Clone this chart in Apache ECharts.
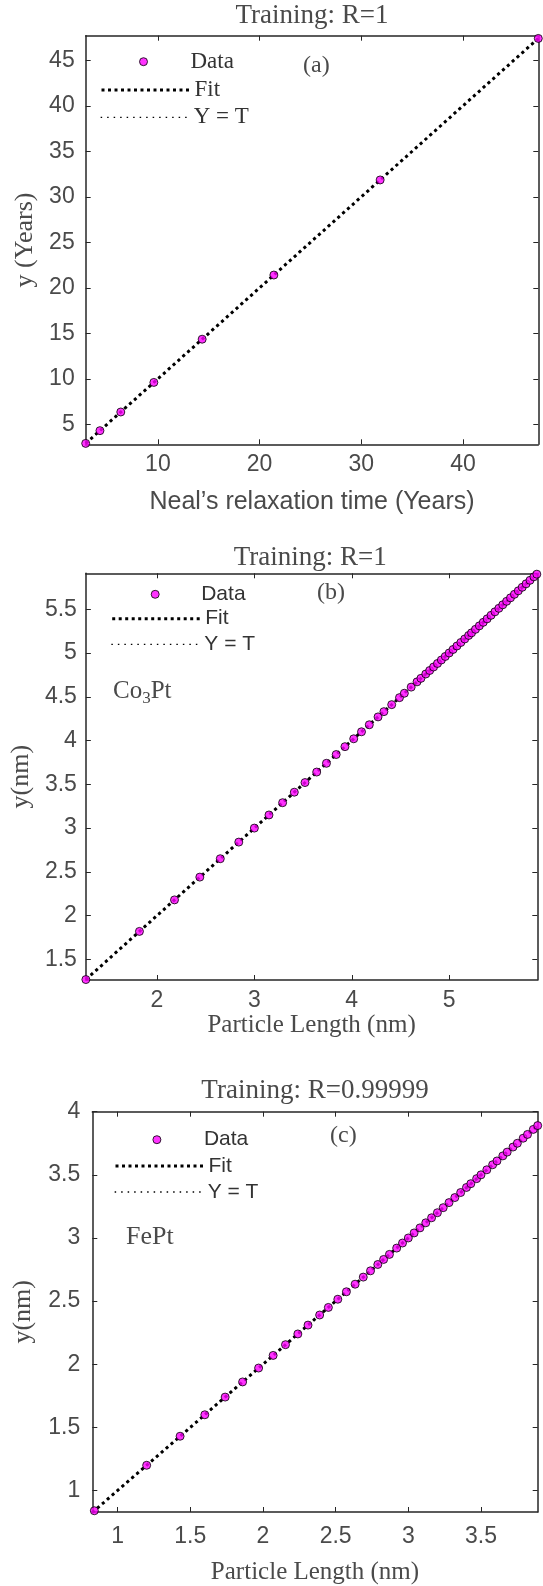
<!DOCTYPE html>
<html><head><meta charset="utf-8">
<script src="https://cdn.jsdelivr.net/npm/echarts@6/dist/echarts.min.js"></script>
<style>html,body{margin:0;padding:0;background:#fff}#c{width:543px;height:1586px}</style>
</head><body><div id="c"></div>
<script>
// ---------- Panel (a) ----------
const aTargets = [2.9, 4.3, 6.35, 9.6, 14.35, 21.4, 31.85, 47.4];
const aOutputs = [2.9, 4.3, 6.35, 9.6, 14.35, 21.4, 31.85, 47.4];
const aFit = [2.9, 47.4];
const aXTicks = [10, 20, 30, 40];
const aYTicks = [5, 10, 15, 20, 25, 30, 35, 40, 45];

// ---------- Panel (b) ----------
const bTargets = [1.27, 1.82, 2.18, 2.44, 2.65, 2.84, 3.0, 3.15, 3.29, 3.41, 3.52, 3.64, 3.74, 3.84, 3.93, 4.02, 4.1, 4.18, 4.27, 4.33, 4.41, 4.49, 4.54, 4.61, 4.67,
  4.71, 4.76, 4.8, 4.84, 4.88, 4.92, 4.96, 5.0, 5.04, 5.08, 5.12, 5.16, 5.2, 5.23, 5.27, 5.31, 5.35, 5.39, 5.43, 5.47, 5.51, 5.55, 5.59, 5.63, 5.67, 5.71, 5.75, 5.79, 5.83, 5.87, 5.9];
const bOutputs = [1.27, 1.82, 2.18, 2.44, 2.65, 2.84, 3.0, 3.15, 3.29, 3.41, 3.52, 3.64, 3.74, 3.84, 3.93, 4.02, 4.1, 4.18, 4.27, 4.33, 4.41, 4.49, 4.54, 4.61, 4.67,
  4.71, 4.76, 4.8, 4.84, 4.88, 4.92, 4.96, 5.0, 5.04, 5.08, 5.12, 5.16, 5.2, 5.23, 5.27, 5.31, 5.35, 5.39, 5.43, 5.47, 5.51, 5.55, 5.59, 5.63, 5.67, 5.71, 5.75, 5.79, 5.83, 5.87, 5.9];
const bFit = [1.27, 5.905];
const bXTicks = [2, 3, 4, 5];
const bYTicks = [1.5, 2, 2.5, 3, 3.5, 4, 4.5, 5, 5.5];

// ---------- Panel (c) ----------
const cTargets = [0.84, 1.2, 1.43, 1.6, 1.74, 1.86, 1.97, 2.07, 2.155, 2.24, 2.31, 2.39, 2.45, 2.515, 2.574, 2.634,
  2.69, 2.74, 2.79, 2.83, 2.87, 2.92, 2.96, 3.0, 3.04, 3.08, 3.12, 3.16, 3.2, 3.24, 3.28, 3.32, 3.36, 3.4, 3.43, 3.47, 3.5, 3.54, 3.58, 3.61, 3.65, 3.68, 3.72, 3.75, 3.79, 3.82, 3.86, 3.89];
const cOutputs = [0.84, 1.2, 1.43, 1.6, 1.74, 1.86, 1.97, 2.07, 2.155, 2.24, 2.31, 2.39, 2.45, 2.515, 2.574, 2.634,
  2.69, 2.74, 2.79, 2.83, 2.87, 2.92, 2.96, 3.0, 3.04, 3.08, 3.12, 3.16, 3.2, 3.24, 3.28, 3.32, 3.36, 3.4, 3.43, 3.47, 3.5, 3.54, 3.58, 3.61, 3.65, 3.68, 3.72, 3.75, 3.79, 3.82, 3.86, 3.89];
const cFit = [0.826, 3.89];
const cXTicks = [1, 1.5, 2, 2.5, 3, 3.5];
const cYTicks = [1, 1.5, 2, 2.5, 3, 3.5, 4];

const SANS = 'Liberation Sans', SERIF = 'Liberation Serif';
const AX = '#262626', TXT = '#4a4a4a';

const panels = [
  {grid:{left:85.7, top:35.7, width:452.6, height:408.6}, xr:[2.9,47.4], yr:[2.8,47.7], xt:aXTicks, yt:aYTicks,
   tx:aTargets, ty:aOutputs, fit:aFit, title:'Training: R=1', xname:"Neal\u2019s relaxation time (Years)", xfont:SANS, xgap:45, yname:'y (Years)', ygap:46,
   xlm:9, ylm:11, lfont:SERIF, lsize:23, leg:[[139,49.7,38],[100,78],[100,105.3]], titleY:2},
  {grid:{left:83.3, top:573.3, width:454, height:406.7}, xr:[1.27,5.905], yr:[1.265,5.91], xt:bXTicks, yt:bYTicks,
   tx:bTargets, ty:bOutputs, fit:bFit, title:'Training: R=1', xname:'Particle Length (nm)', xfont:SERIF, xgap:32, yname:'y(nm)', ygap:46,
   xlm:9, ylm:9, lfont:SANS, lsize:21, leg:[[150.7,582.3,37],[110.7,606.7],[110.7,632.3]], titleY:544},
  {grid:{left:92.3, top:1111.7, width:445.4, height:402.3}, xr:[0.826,3.89], yr:[0.83,4.0], xt:cXTicks, yt:cYTicks,
   tx:cTargets, ty:cOutputs, fit:cFit, title:'Training: R=0.99999', xname:'Particle Length (nm)', xfont:SERIF, xgap:48, yname:'y(nm)', ygap:56,
   xlm:13, ylm:12, lfont:SANS, lsize:21, leg:[[152.4,1127.7,38],[114,1154],[114,1180]], titleY:1077}
];

const option = {animation:false, backgroundColor:'#fff', grid:[], xAxis:[], yAxis:[], series:[], legend:[], title:[], graphic:[]};

function axisCommon(min, max, ticks, showLabel, margin, gi) {
  return {type:'value', gridIndex:gi, min, max, scale:true,
    axisLine:{show:true, onZero:false, lineStyle:{color:AX, width:1.5}},
    axisTick:{show:true, inside:true, length:5, customValues:ticks, lineStyle:{color:AX, width:1}},
    axisLabel:{show:showLabel, customValues:ticks, margin, fontFamily:SANS, fontSize:23, color:TXT},
    splitLine:{show:false}};
}

panels.forEach((p, i) => {
  option.grid.push(Object.assign({containLabel:false}, p.grid));
  const xb = axisCommon(p.xr[0], p.xr[1], p.xt, true, p.xlm, i);
  Object.assign(xb, {position:'bottom', name:p.xname, nameLocation:'middle', nameGap:p.xgap,
    nameTextStyle:{fontFamily:p.xfont, fontSize:25, color:TXT}});
  const xt = axisCommon(p.xr[0], p.xr[1], p.xt, false, 8, i); xt.position = 'top';
  const yl = axisCommon(p.yr[0], p.yr[1], p.yt, true, p.ylm, i);
  Object.assign(yl, {position:'left', name:p.yname, nameLocation:'middle', nameGap:p.ygap,
    nameTextStyle:{fontFamily:SERIF, fontSize:26, color:TXT}});
  const yr = axisCommon(p.yr[0], p.yr[1], p.yt, false, 8, i); yr.position = 'right';
  option.xAxis.push(xb, xt);
  option.yAxis.push(yl, yr);
  const xi = 2*i, yi = 2*i;
  option.series.push(
    {type:'line', name:'Y = T', xAxisIndex:xi, yAxisIndex:yi, data:[[p.fit[0],p.fit[0]],[p.fit[1],p.fit[1]]], symbol:'none',
      itemStyle:{color:'#000'}, lineStyle:{color:'#000', width:1.3, type:[1.5,5]}, z:2, silent:true},
    {type:'line', name:'Fit', xAxisIndex:xi, yAxisIndex:yi, data:[[p.fit[0],p.fit[0]],[p.fit[1],p.fit[1]]], symbol:'none',
      itemStyle:{color:'#000'}, lineStyle:{color:'#000', width:3, type:[3,3.5]}, z:3, silent:true},
    {type:'scatter', name:'Data', xAxisIndex:xi, yAxisIndex:yi, data:p.tx.map((v,k)=>[v, p.ty[k]]), symbol:'circle', symbolSize:8,
      itemStyle:{color:'#ff00ff', borderColor:'#000', borderWidth:1}, z:5, silent:true}
  );
  option.legend.push({data:['Data'], left:p.leg[0][0], top:p.leg[0][1], orient:'vertical', padding:0, itemGap:0,
    icon:'circle', itemWidth:8, itemHeight:8, selectedMode:false,
    itemStyle:{color:'#ff00ff', borderColor:'#000', borderWidth:1},
    textStyle:{fontFamily:p.lfont, fontSize:p.lsize, color:'#333', lineHeight:24, padding:[0,0,0,p.leg[0][2]]}});
  ['Fit','Y = T'].forEach((n, k) => {
    option.legend.push({data:[n], left:p.leg[k+1][0], top:p.leg[k+1][1], orient:'vertical', padding:0, itemGap:0,
      itemWidth:88, itemHeight:8, selectedMode:false,
      itemStyle:{color:'rgba(0,0,0,0)', borderColor:'rgba(0,0,0,0)', borderWidth:0, opacity:0},
      lineStyle:{width: n==='Fit'?3:1.3, color:'#000'},
      textStyle:{fontFamily:p.lfont, fontSize:p.lsize, color:'#333', lineHeight:24}});
  });
  option.title.push({text:p.title, left:p.grid.left + p.grid.width/2, textAlign:'center', top:p.titleY, padding:0,
    textStyle:{fontFamily:SERIF, fontSize:27, fontWeight:'normal', color:TXT}});
});

option.graphic = [
  {type:'text', left:303, top:54, style:{text:'(a)', fontFamily:SERIF, fontSize:24, fill:TXT}},
  {type:'text', left:317, top:581, style:{text:'(b)', fontFamily:SERIF, fontSize:24, fill:TXT}},
  {type:'text', left:330, top:1124, style:{text:'(c)', fontFamily:SERIF, fontSize:24, fill:TXT}},
  {type:'text', left:113, top:679, style:{text:'Co{s|3}Pt', fontFamily:SERIF, fontSize:25, fill:TXT,
     rich:{s:{fontFamily:SERIF, fontSize:17, fill:TXT, padding:[15,0,0,0]}}}},
  {type:'text', left:126, top:1224, style:{text:'FePt', fontFamily:SERIF, fontSize:26, fill:TXT}}
];

const chart = echarts.init(document.getElementById('c'), null, {renderer:'canvas'});
chart.setOption(option);
</script></body></html>
